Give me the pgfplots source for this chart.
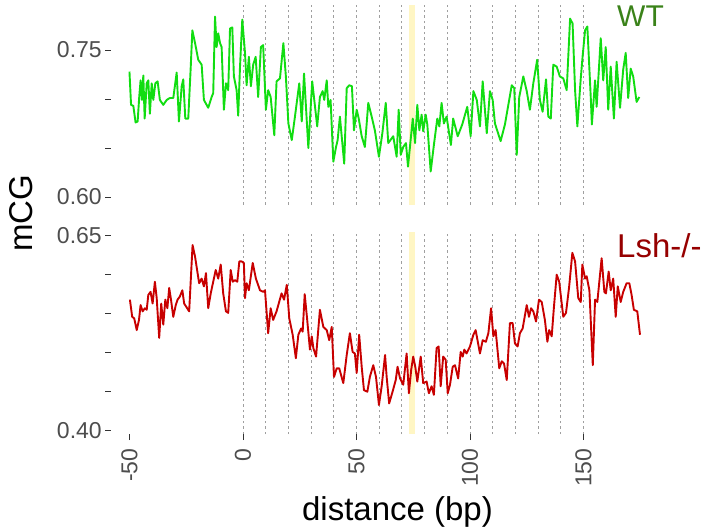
\documentclass[border=0pt]{standalone}
\usepackage{fontspec}
\setmainfont{Liberation Sans}
\usepackage{pgfplots}
\pgfplotsset{compat=1.18}
\usepackage{pgfplotstable}

\definecolor{wtline}{RGB}{17,221,17}
\definecolor{wttext}{RGB}{58,130,25}
\definecolor{koline}{RGB}{200,0,0}
\definecolor{kotext}{RGB}{150,0,0}
\definecolor{ticktext}{RGB}{77,77,77}
\definecolor{band}{RGB}{255,246,196}

% WT
\pgfplotstableread{
x y
-50.0 0.728
-49.3 0.694
-48.3 0.693
-47.3 0.676
-46.4 0.677
-45.7 0.702
-45.1 0.719
-44.5 0.699
-43.9 0.724
-43.3 0.680
-42.4 0.716
-41.7 0.719
-41.0 0.685
-40.2 0.716
-39.5 0.699
-38.6 0.716
-37.6 0.718
-36.6 0.699
-35.1 0.694
-33.6 0.699
-32.2 0.701
-30.7 0.701
-30.0 0.713
-29.2 0.727
-28.2 0.677
-27.0 0.713
-26.3 0.720
-25.4 0.680
-24.1 0.680
-23.0 0.733
-22.3 0.770
-21.1 0.757
-19.7 0.740
-18.2 0.735
-17.2 0.699
-15.3 0.691
-13.8 0.702
-13.1 0.706
-12.3 0.784
-11.6 0.753
-10.9 0.767
-10.1 0.757
-9.4 0.753
-8.4 0.689
-7.5 0.716
-6.5 0.709
-5.7 0.772
-4.7 0.773
-4.0 0.723
-2.8 0.709
-2.1 0.683
-1.3 0.733
-0.3 0.781
0.9 0.747
1.6 0.714
2.6 0.743
3.5 0.713
4.5 0.735
5.6 0.743
6.7 0.702
7.9 0.753
8.9 0.755
10.1 0.689
11.1 0.709
12.2 0.702
13.8 0.663
14.8 0.718
16.3 0.721
17.8 0.757
18.9 0.723
20.0 0.675
21.5 0.658
22.9 0.682
24.8 0.716
25.9 0.677
26.9 0.726
28.8 0.650
30.5 0.718
32.7 0.672
33.9 0.702
35.1 0.708
35.8 0.699
36.9 0.719
37.6 0.692
38.6 0.699
39.8 0.636
41.0 0.651
41.7 0.658
42.7 0.682
44.6 0.634
45.7 0.711
46.8 0.714
48.0 0.713
48.9 0.668
50.1 0.689
51.0 0.680
52.3 0.662
53.7 0.651
55.2 0.696
56.7 0.682
58.1 0.668
59.9 0.641
61.4 0.665
62.9 0.696
64.0 0.655
66.2 0.662
67.7 0.641
68.6 0.689
69.5 0.643
70.6 0.651
71.8 0.655
72.7 0.631
74.8 0.680
75.8 0.655
76.8 0.694
77.7 0.668
78.7 0.684
79.4 0.667
80.5 0.684
81.2 0.674
82.7 0.626
84.1 0.653
85.6 0.680
86.5 0.672
87.5 0.696
88.5 0.675
89.7 0.682
91.6 0.653
92.6 0.680
94.6 0.662
96.6 0.674
98.8 0.692
100.3 0.662
101.5 0.708
103.0 0.699
104.4 0.672
105.6 0.718
107.4 0.665
108.8 0.708
110.0 0.699
111.0 0.675
113.5 0.657
115.4 0.674
118.4 0.714
119.5 0.711
120.6 0.643
121.7 0.702
123.5 0.723
125.0 0.708
126.4 0.689
127.9 0.716
129.6 0.740
130.8 0.699
132.0 0.687
133.5 0.720
134.5 0.682
135.6 0.680
136.7 0.735
138.2 0.733
139.6 0.723
141.1 0.721
142.6 0.709
144.1 0.782
145.2 0.777
146.3 0.709
147.3 0.672
148.8 0.721
149.6 0.743
150.7 0.770
151.7 0.774
153.2 0.702
153.7 0.674
155.1 0.719
155.8 0.692
157.6 0.762
158.7 0.719
159.8 0.753
160.9 0.689
162.0 0.733
163.4 0.680
164.6 0.738
166.1 0.691
167.5 0.730
168.6 0.747
169.7 0.701
170.8 0.731
171.9 0.723
173.4 0.697
174.6 0.702
}\wt

% Lsh-/-
\pgfplotstableread{
x y
-49.8 0.568
-48.8 0.546
-47.9 0.544
-46.8 0.529
-45.8 0.542
-45.1 0.561
-44.2 0.553
-43.2 0.557
-42.4 0.555
-41.7 0.574
-40.7 0.578
-39.8 0.563
-38.8 0.591
-38.0 0.570
-36.9 0.519
-36.0 0.563
-35.1 0.536
-34.2 0.568
-33.3 0.557
-32.5 0.583
-31.7 0.568
-30.7 0.546
-29.6 0.561
-28.8 0.568
-27.8 0.572
-26.7 0.580
-25.9 0.563
-24.8 0.558
-23.7 0.553
-22.2 0.638
-21.1 0.623
-20.1 0.604
-19.3 0.589
-18.2 0.595
-17.2 0.585
-16.3 0.602
-15.3 0.557
-14.2 0.576
-13.1 0.591
-12.0 0.606
-10.9 0.595
-9.8 0.613
-8.7 0.576
-7.5 0.553
-6.5 0.551
-5.4 0.606
-4.5 0.591
-3.5 0.593
-2.5 0.591
-1.6 0.617
-0.6 0.617
0.4 0.615
0.9 0.570
1.6 0.589
2.6 0.580
4.3 0.615
5.7 0.595
7.5 0.580
8.9 0.578
9.7 0.580
11.1 0.525
12.2 0.557
13.3 0.542
14.8 0.553
17.0 0.576
18.1 0.568
19.3 0.587
20.4 0.544
21.9 0.523
23.3 0.493
24.4 0.523
25.6 0.531
26.3 0.527
27.2 0.575
28.3 0.542
29.5 0.504
30.3 0.521
31.0 0.506
32.2 0.495
33.9 0.555
35.4 0.533
36.9 0.529
38.0 0.516
39.1 0.533
40.1 0.469
41.3 0.480
42.4 0.480
44.2 0.461
45.7 0.497
47.1 0.525
48.3 0.501
49.3 0.499
50.1 0.474
51.2 0.523
52.3 0.482
53.3 0.452
54.8 0.450
55.9 0.469
57.4 0.484
58.6 0.469
59.9 0.433
61.1 0.457
62.6 0.497
63.3 0.469
64.4 0.435
65.9 0.450
67.3 0.465
68.1 0.482
69.2 0.467
70.6 0.459
72.1 0.499
73.1 0.448
74.1 0.478
75.0 0.495
75.9 0.482
76.8 0.463
78.3 0.495
79.4 0.461
80.9 0.463
81.9 0.448
83.1 0.457
84.1 0.446
85.3 0.506
86.2 0.508
87.1 0.457
88.2 0.495
89.3 0.491
90.2 0.448
91.2 0.459
92.4 0.482
93.4 0.484
94.8 0.467
95.9 0.501
96.8 0.495
97.5 0.504
98.5 0.499
100.0 0.508
101.5 0.523
102.5 0.529
103.7 0.510
104.4 0.499
105.6 0.516
107.0 0.514
108.1 0.525
109.3 0.557
110.3 0.521
111.3 0.529
112.9 0.480
114.0 0.489
115.0 0.486
116.2 0.465
117.6 0.538
118.8 0.538
119.8 0.512
121.0 0.508
122.0 0.525
123.2 0.531
125.0 0.561
126.0 0.546
126.9 0.557
127.9 0.553
129.1 0.540
130.4 0.568
131.6 0.565
133.0 0.542
134.1 0.514
134.9 0.529
136.0 0.521
137.0 0.559
138.2 0.600
139.3 0.591
141.1 0.546
142.3 0.551
143.7 0.585
145.1 0.628
146.3 0.617
147.7 0.570
148.8 0.565
149.5 0.613
150.7 0.595
151.4 0.598
152.6 0.580
154.1 0.484
155.1 0.568
156.1 0.565
158.0 0.621
159.2 0.578
159.9 0.576
161.1 0.604
162.0 0.580
163.1 0.595
164.2 0.546
165.1 0.585
166.4 0.565
167.5 0.578
169.0 0.589
170.2 0.589
171.2 0.574
172.2 0.555
173.7 0.553
174.9 0.523
}\ko

\pgfplotsset{
  panel/.style={
    scale only axis, width=553.9pt,
    xmin=-58, xmax=186,
    axis line style={draw=none},
    tick align=outside, xtick pos=left, ytick pos=left,
    major tick length=6pt,
    tick style={color=black!80, line width=0.9pt},
    ticklabel style={font=\fontsize{23}{27}\selectfont, text=ticktext},
    extra x ticks={0,10,...,150}, extra x tick labels={},
    extra x tick style={grid=major, major tick length=0pt},
    major grid style={gray!75, dash pattern=on 2.5pt off 3pt, line width=0.8pt},
    clip=false,
  },
}

\begin{document}
\begin{tikzpicture}
\path[use as bounding box] (0,0) rectangle (704pt,531pt);

% WT panel
\begin{axis}[panel,
  at={(111.3pt,326pt)}, anchor=south west, height=200pt,
  ymin=0.5918, ymax=0.7959,
  xtick=\empty,
  ytick={0.60,0.65,0.70,0.75}, yticklabels={0.60,{},{},0.75},
]
\fill[band] (axis cs:73.2,0.5918) rectangle (axis cs:75.8,0.7959);
\addplot[wtline, line width=1.9pt, line join=round] table {\wt};
\end{axis}

% Lsh-/- panel
\begin{axis}[panel,
  at={(111.3pt,97pt)}, anchor=south west, height=202pt,
  ymin=0.3958, ymax=0.6547,
  xtick={-50,0,50,100,150}, xticklabels={-50,0,50,100,150},
  xticklabel style={rotate=90, anchor=east},
  xticklabel shift=5pt,
  ytick={0.40,0.45,0.50,0.55,0.60,0.65}, yticklabels={0.40,{},{},{},{},0.65},
]
\fill[band] (axis cs:73.2,0.3958) rectangle (axis cs:75.8,0.6547);
\addplot[koline, line width=1.9pt, line join=round] table {\ko};
\end{axis}

\node[anchor=base west, inner sep=0pt, text=wttext, font=\fontsize{30}{36}\selectfont] at (617pt,504pt) {WT};
\node[anchor=base west, inner sep=0pt, text=kotext, font=\fontsize{33}{40}\selectfont] at (617pt,273pt) {Lsh-/-};
\node[rotate=90, anchor=base, inner sep=0pt, font=\fontsize{33}{40}\selectfont] at (32pt,318pt) {mCG};
\node[anchor=base, inner sep=0pt, font=\fontsize{33}{40}\selectfont] at (397.5pt,11pt) {distance (bp)};
\end{tikzpicture}
\end{document}
